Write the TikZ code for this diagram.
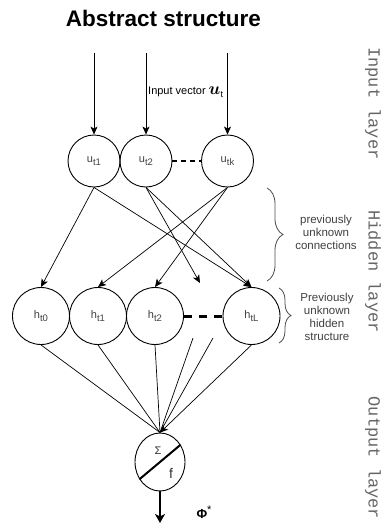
\documentclass[tikz,border=0pt]{standalone}
\usepackage{fontspec}
\setmainfont{Liberation Sans}
\newfontfamily\layerfont{Liberation Mono}
\usetikzlibrary{arrows.meta,decorations.pathreplacing,shapes.geometric}

% subscript used in the unit labels
\newcommand{\unitsub}[1]{\raisebox{-0.45ex}{\fontsize{9.5}{10}\selectfont #1}}

\begin{document}
\begin{tikzpicture}[x=1pt,y=-1pt,
  unit/.style={draw, circle, line width=0.9pt, inner sep=0pt,
    font=\fontsize{11}{12}\selectfont, text=black!75},
  inunit/.style={unit, minimum size=52pt},
  hidunit/.style={unit, minimum size=57pt},
  link/.style={line width=0.7pt, -{Stealth[length=8pt,width=7pt,inset=2pt]}},
  wire/.style={line width=0.7pt},
  gapline/.style={line cap=butt},
  bracket/.style={draw=black!70, line width=0.8pt, decorate},
  note/.style={align=center, text=black!75, font=\fontsize{11.5}{13}\selectfont},
  layername/.style={rotate=-90, text=black!60, font=\layerfont\fontsize{17}{17}\selectfont}
]
\useasboundingbox (0,0) rectangle (385,528);

% title
\node[font=\bfseries\fontsize{22.5}{24}\selectfont] (title) at (163.5,18) {Abstract structure};

% input layer
\node[inunit] (ut1) at (94,161) {u\unitsub{t1}};
\node[inunit] (ut2) at (146,161) {u\unitsub{t2}};
\node[inunit] (utk) at (227.5,161) {u\unitsub{tk}};

\coordinate (in1) at (94,53);
\coordinate (in2) at (146,53);
\coordinate (in3) at (227.5,53);
\draw[link] (in1) -- (ut1);
\draw[link] (in2) -- (ut2);
\draw[link] (in3) -- (utk);
\node[anchor=west, inner sep=0pt, font=\fontsize{11}{12}\selectfont] (invec) at (148,92)
  {Input vector {\fontsize{16}{16}\selectfont\boldmath$u$}\raisebox{-0.5ex}{\fontsize{9}{9}\selectfont t}};

\draw[gapline, line width=1.8pt, dash pattern=on 5pt off 4pt] (ut2.east) -- (utk.west);

% hidden layer
\node[hidunit] (ht0) at (41,316) {h\unitsub{t0}};
\node[hidunit] (ht1) at (98,316) {h\unitsub{t1}};
\node[hidunit] (ht2) at (155,316) {h\unitsub{t2}};
\node[hidunit] (htL) at (251.5,316) {h\unitsub{tL}};

\draw[gapline, line width=3pt, dash pattern=on 8pt off 7pt] (ht2.east) -- (htL.west);

% input -> hidden connections
\coordinate (open1) at (200,283);
\draw[link] (ut1.south) -- (ht0.north);
\draw[link] (ut1.south) -- (htL.north);
\draw[link] (ut2.south) -- (open1);
\draw[link] (ut2.south) -- (htL.north);
\draw[link] (utk.south) -- (ht1.north);
\draw[link] (utk.south) -- (ht2.north);

% output unit
\node[draw, ellipse, line width=0.9pt, minimum width=50pt, minimum height=58pt, inner sep=0pt] (out) at (160,462) {};
\draw[line width=2pt] (out.220) -- (out.40);
\node[font=\fontsize{11}{12}\selectfont, text=black!80] (sigma) at (158,451) {Σ};
\node[font=\fontsize{14}{14}\selectfont, text=black!80] (fn) at (171,473) {f};

% hidden -> output connections
\coordinate (open2) at (193,338);
\coordinate (open3) at (213,338);
\draw[wire] (ht0.south) -- (out.north);
\draw[wire] (ht1.south) -- (out.north);
\draw[wire] (ht2.south) -- (out.north);
\draw[wire] (open2) -- (out.north);
\draw[wire] (open3) -- (out.north);
\draw[link] (htL.south) -- (out.north);

% output arrow
\coordinate (res) at (160,523);
\draw[line width=2pt, -{Stealth[length=9pt,width=10pt,inset=2.5pt]}] (out.south) -- (res);
\node[font=\fontsize{13}{13}\selectfont] (phi) at (204,512) {\textbf{Φ}\raisebox{0.7ex}{\fontsize{11}{11}\selectfont *}};

% braces and notes
\draw[bracket, decoration={brace, amplitude=16pt}] (267,188) -- (267,281);
\node[note] (n1) at (326,232) {previously\\unknown\\connections};
\draw[bracket, decoration={brace, amplitude=12pt}] (279,288) -- (279,343);
\node[note] (n2) at (327,317) {Previously\\unknown\\hidden\\structure};

% layer names
\node[layername] (l1) at (373,103.5) {Input layer};
\node[layername] (l2) at (373,271.5) {Hidden layer};
\node[layername] (l3) at (373,458) {Output layer};
\end{tikzpicture}
\end{document}
